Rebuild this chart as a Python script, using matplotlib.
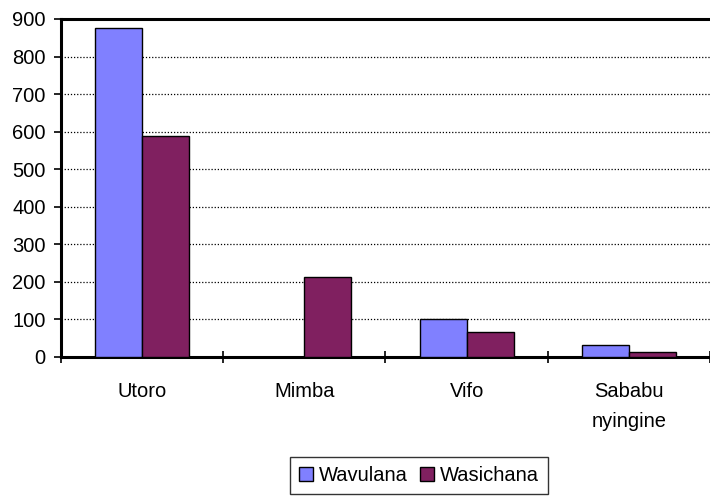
import numpy as np
import matplotlib.pyplot as plt
from matplotlib.ticker import FixedLocator

plt.rcParams['font.family'] = ['Liberation Sans', 'DejaVu Sans']

categories = ['Utoro', 'Mimba', 'Vifo', 'Sababu\nnyingine']
wavulana = [877, 0, 100, 31]
wasichana = [588, 212, 67, 14]

fig = plt.figure(figsize=(7.1, 4.97), dpi=100)
ax = fig.add_axes([0.0859, 0.2817, 0.9141, 0.6801])

x = np.arange(len(categories))
w = 0.29
ax.bar(x - w / 2, wavulana, w, color='#8080FF', edgecolor='black', linewidth=1, label='Wavulana', zorder=3)
ax.bar(x + w / 2, wasichana, w, color='#802060', edgecolor='black', linewidth=1, label='Wasichana', zorder=3)

ax.set_xlim(-0.5, len(categories) - 0.5)
ax.set_ylim(0, 900)
ax.set_yticks(range(0, 901, 100))
ax.set_xticks(x)
ax.set_xticklabels(categories, fontsize=14.5, linespacing=1.75)
ax.xaxis.set_minor_locator(FixedLocator(np.arange(-0.5, len(categories), 1.0)))
ax.tick_params(axis='x', which='major', length=0, pad=18)
ax.tick_params(axis='x', which='minor', length=9, width=1.2, direction='inout')
ax.tick_params(axis='y', length=5, width=1.2, labelsize=14.5, pad=6)

ax.yaxis.grid(True, linestyle=(0, (1, 1.5)), color='black', linewidth=0.9, zorder=0)

for side in ['left', 'top', 'bottom']:
    ax.spines[side].set_linewidth(2.2)
ax.spines['right'].set_visible(False)

leg = fig.legend(loc='center', bbox_to_anchor=(0.59, 0.044), ncol=2, fontsize=14.5,
                 frameon=True, fancybox=False, edgecolor='black', handlelength=0.7,
                 handleheight=0.7, handletextpad=0.3, columnspacing=0.6, borderpad=0.45)
leg.get_frame().set_linewidth(1)

fig.savefig('out.png', dpi=100)
